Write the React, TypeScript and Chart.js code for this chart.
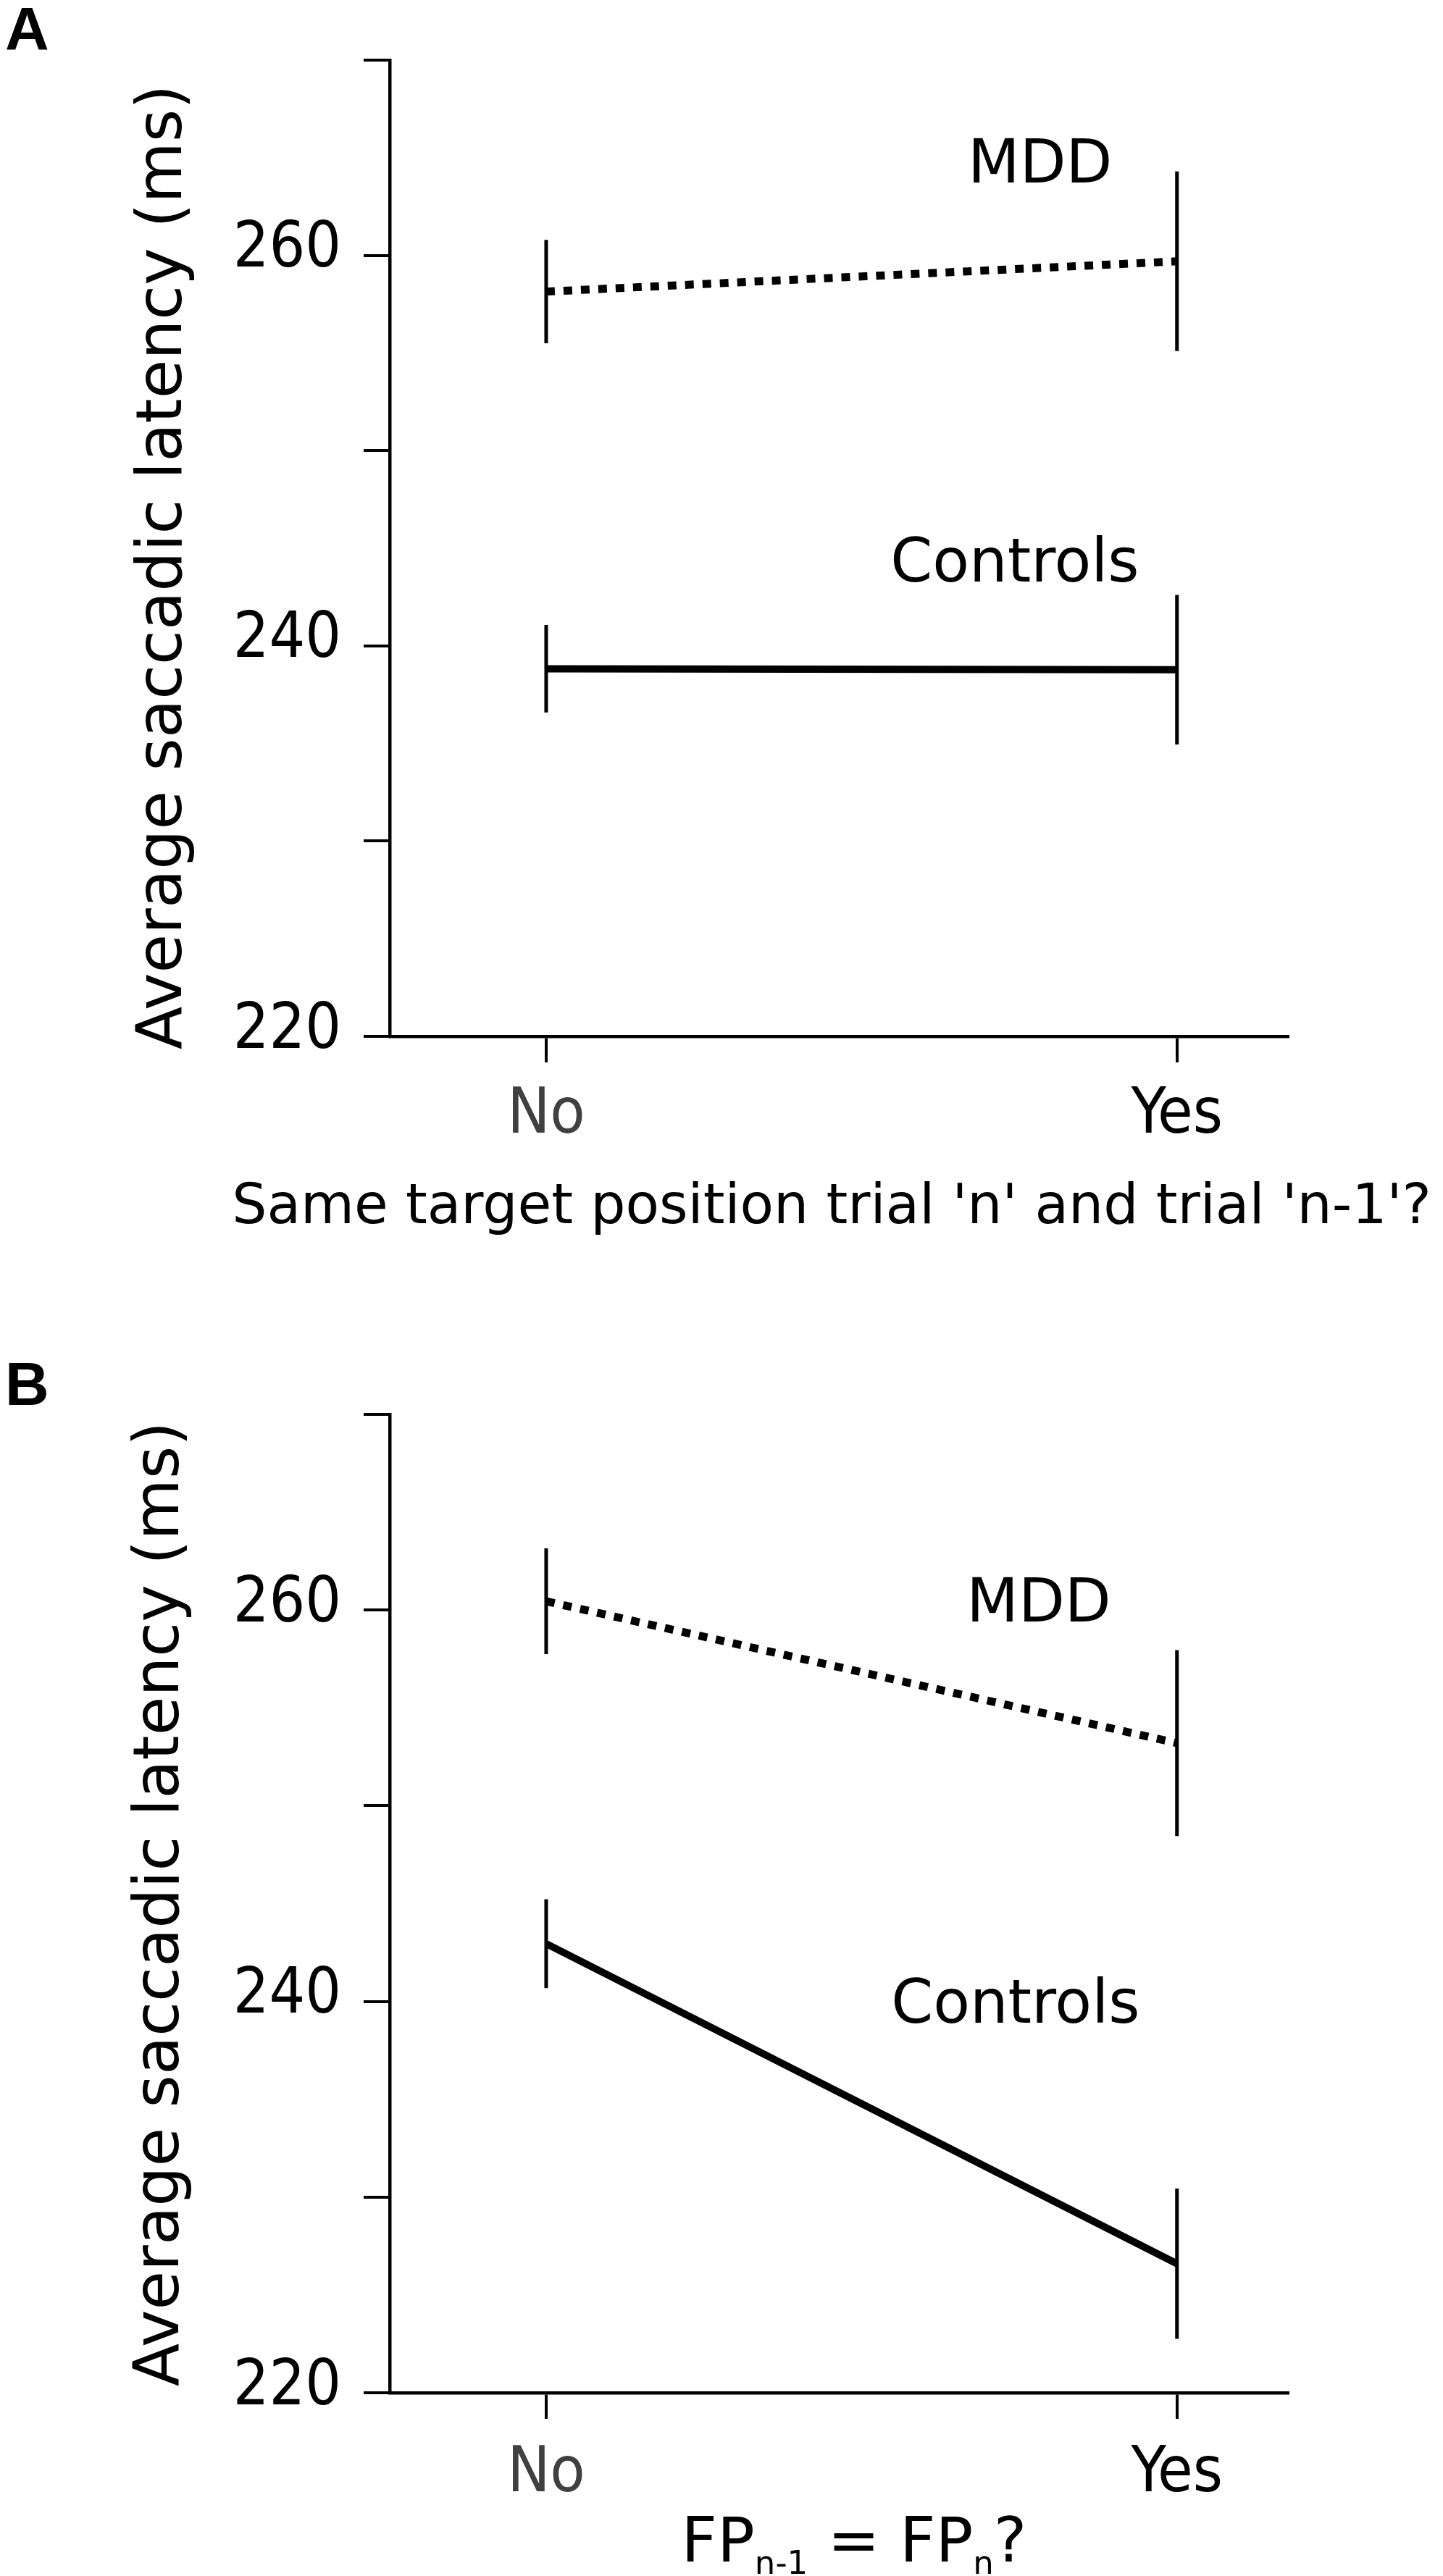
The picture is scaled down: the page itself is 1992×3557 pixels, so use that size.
import { useEffect, useRef } from 'react';
import Chart from 'chart.js/auto';

// categories on the x axis
const categories = ['No', 'Yes'];

// y axis: 220..270 with a tick every 10, labels only on these
const yMin = 220;
const yMax = 270;
const yStep = 10;
const yLabelled = [220, 240, 260];

// panel A: same target position trial n and n-1
const aMdd = [258.15, 259.7];
const aMddErr = [2.65, 4.6];
const aControls = [238.83, 238.78];
const aControlsErr = [2.24, 3.83];

// panel B: FP(n-1) = FP(n)
const bMdd = [260.45, 253.2];
const bMddErr = [2.7, 4.75];
const bControls = [242.95, 226.6];
const bControlsErr = [2.27, 3.84];

const SANS = "'DejaVu Sans', Verdana, sans-serif";
const NARROW = "'DejaVu Sans Condensed', 'Liberation Sans Narrow', sans-serif";

type Segment = { text: string; sub?: boolean };

type PanelProps = {
  letter: string;
  height: number;
  plotTop: number;
  plotBottom: number;
  mdd: number[];
  mddErr: number[];
  controls: number[];
  controlsErr: number[];
  mddLabel: { x: number; y: number };
  controlsLabel: { x: number; y: number };
  letterBaseline: number;
  yTitleX: number;
  yTitleY: number;
  xTitle: Segment[];
  xTitleSize: number;
  xTitleCenter: number;
  xTitleBaseline: number;
  tickPad: number;
};

function Panel(p: PanelProps) {
  const canvasRef = useRef<HTMLCanvasElement>(null);

  useEffect(() => {
    if (!canvasRef.current) return;

    const decorations = {
      id: 'decorations',
      afterDatasetsDraw(chart: Chart) {
        const ctx = chart.ctx;
        const x = chart.scales.x;
        const y = chart.scales.y;
        ctx.save();
        ctx.strokeStyle = '#000';
        ctx.fillStyle = '#000';

        // error bars, plain vertical lines without caps
        ctx.lineWidth = 5;
        ctx.lineCap = 'butt';
        const groups = [
          { m: p.mdd, e: p.mddErr },
          { m: p.controls, e: p.controlsErr },
        ];
        groups.forEach(({ m, e }) => {
          m.forEach((v, i) => {
            const px = x.getPixelForValue(i);
            ctx.beginPath();
            ctx.moveTo(px, y.getPixelForValue(v + e[i]));
            ctx.lineTo(px, y.getPixelForValue(v - e[i]));
            ctx.stroke();
          });
        });

        // group labels
        ctx.font = `83px ${SANS}`;
        ctx.textAlign = 'center';
        ctx.textBaseline = 'alphabetic';
        ctx.fillText('MDD', x.getPixelForValue(p.mddLabel.x), y.getPixelForValue(p.mddLabel.y));
        ctx.fillText('Controls', x.getPixelForValue(p.controlsLabel.x), y.getPixelForValue(p.controlsLabel.y));

        // panel letter
        ctx.textAlign = 'left';
        ctx.font = `bold 84px 'Liberation Sans', Arial, sans-serif`;
        ctx.fillText(p.letter, 7, p.letterBaseline);

        // y title
        ctx.save();
        ctx.translate(p.yTitleX, p.yTitleY);
        ctx.rotate(-Math.PI / 2);
        ctx.textAlign = 'center';
        ctx.font = `87px ${SANS}`;
        ctx.fillText('Average saccadic latency (ms)', 0, 0);
        ctx.restore();

        // x title, with subscripts where needed
        const mainFont = `${p.xTitleSize}px ${SANS}`;
        const subFont = `${Math.round(p.xTitleSize * 0.52)}px ${SANS}`;
        const widths = p.xTitle.map((s) => {
          ctx.font = s.sub ? subFont : mainFont;
          return ctx.measureText(s.text).width;
        });
        let cx = p.xTitleCenter - widths.reduce((a, b) => a + b, 0) / 2;
        p.xTitle.forEach((s, i) => {
          ctx.font = s.sub ? subFont : mainFont;
          ctx.fillText(s.text, cx, p.xTitleBaseline + (s.sub ? 17 : 0));
          cx += widths[i];
        });

        ctx.restore();
      },
    };

    const chart = new Chart(canvasRef.current, {
      type: 'line',
      data: {
        datasets: [
          {
            label: 'MDD',
            data: p.mdd.map((v, i) => ({ x: i, y: v })),
            borderColor: '#000',
            borderWidth: 11,
            borderDash: [12, 12],
            borderCapStyle: 'butt',
            pointRadius: 0,
            fill: false,
            tension: 0,
          },
          {
            label: 'Controls',
            data: p.controls.map((v, i) => ({ x: i, y: v })),
            borderColor: '#000',
            borderWidth: 10,
            borderCapStyle: 'butt',
            pointRadius: 0,
            fill: false,
            tension: 0,
          },
        ],
      },
      options: {
        responsive: false,
        devicePixelRatio: 1,
        animation: false,
        layout: { padding: { top: p.plotTop, right: 214, left: 0, bottom: 0 } },
        plugins: {
          legend: { display: false },
          tooltip: { enabled: false },
        },
        scales: {
          x: {
            type: 'linear',
            min: -0.248,
            max: 1.176,
            afterBuildTicks: (s) => {
              s.ticks = categories.map((_, i) => ({ value: i }));
            },
            afterFit: (s) => {
              s.height = p.height - p.plotBottom;
            },
            border: { display: true, color: '#000', width: 4.5 },
            grid: {
              display: true,
              drawOnChartArea: false,
              drawTicks: true,
              tickLength: 36,
              color: '#000',
              lineWidth: 4,
            },
            ticks: {
              padding: p.tickPad,
              maxRotation: 0,
              autoSkip: false,
              color: (c) => (c.index === 0 ? '#404040' : '#000'),
              font: { family: NARROW, size: 88 },
              callback: (v) => categories[Number(v)] ?? '',
            },
          },
          y: {
            type: 'linear',
            min: yMin,
            max: yMax,
            afterFit: (s) => {
              s.width = 538;
            },
            border: { display: true, color: '#000', width: 4.5 },
            grid: {
              display: true,
              drawOnChartArea: false,
              drawTicks: true,
              tickLength: 36,
              color: '#000',
              lineWidth: 4,
            },
            ticks: {
              stepSize: yStep,
              padding: 31,
              labelOffset: -7,
              color: '#000',
              font: { family: NARROW, size: 87 },
              callback: (v) => (yLabelled.includes(Number(v)) ? String(v) : ''),
            },
          },
        },
      },
      plugins: [decorations],
    });

    return () => {
      chart.destroy();
    };
  }, []);

  return (
    <canvas
      ref={canvasRef}
      width={1992}
      height={p.height}
      style={{ display: 'block', width: 1992, height: p.height }}
    />
  );
}

export default function App() {
  return (
    <div style={{ position: 'absolute', left: 0, top: 0, width: 1992, height: 3557, background: '#fff' }}>
      <Panel
        letter="A"
        height={1780}
        plotTop={79}
        plotBottom={1431}
        mdd={aMdd}
        mddErr={aMddErr}
        controls={aControls}
        controlsErr={aControlsErr}
        mddLabel={{ x: 0.783, y: 263.73 }}
        controlsLabel={{ x: 0.743, y: 243.3 }}
        letterBaseline={69}
        yTitleX={250}
        yTitleY={783}
        xTitle={[{ text: "Same target position trial 'n' and trial 'n-1'?" }]}
        xTitleSize={76}
        xTitleCenter={1148}
        xTitleBaseline={1689}
        tickPad={21}
      />
      <Panel
        letter="B"
        height={1777}
        plotTop={173}
        plotBottom={1524}
        mdd={bMdd}
        mddErr={bMddErr}
        controls={bControls}
        controlsErr={bControlsErr}
        mddLabel={{ x: 0.781, y: 259.41 }}
        controlsLabel={{ x: 0.744, y: 238.93 }}
        letterBaseline={160}
        yTitleX={246}
        yTitleY={849}
        xTitle={[
          { text: 'FP' },
          { text: 'n-1', sub: true },
          { text: ' = FP' },
          { text: 'n', sub: true },
          { text: '?' },
        ]}
        xTitleSize={86}
        xTitleCenter={1179}
        xTitleBaseline={1757}
        tickPad={24}
      />
    </div>
  );
}
